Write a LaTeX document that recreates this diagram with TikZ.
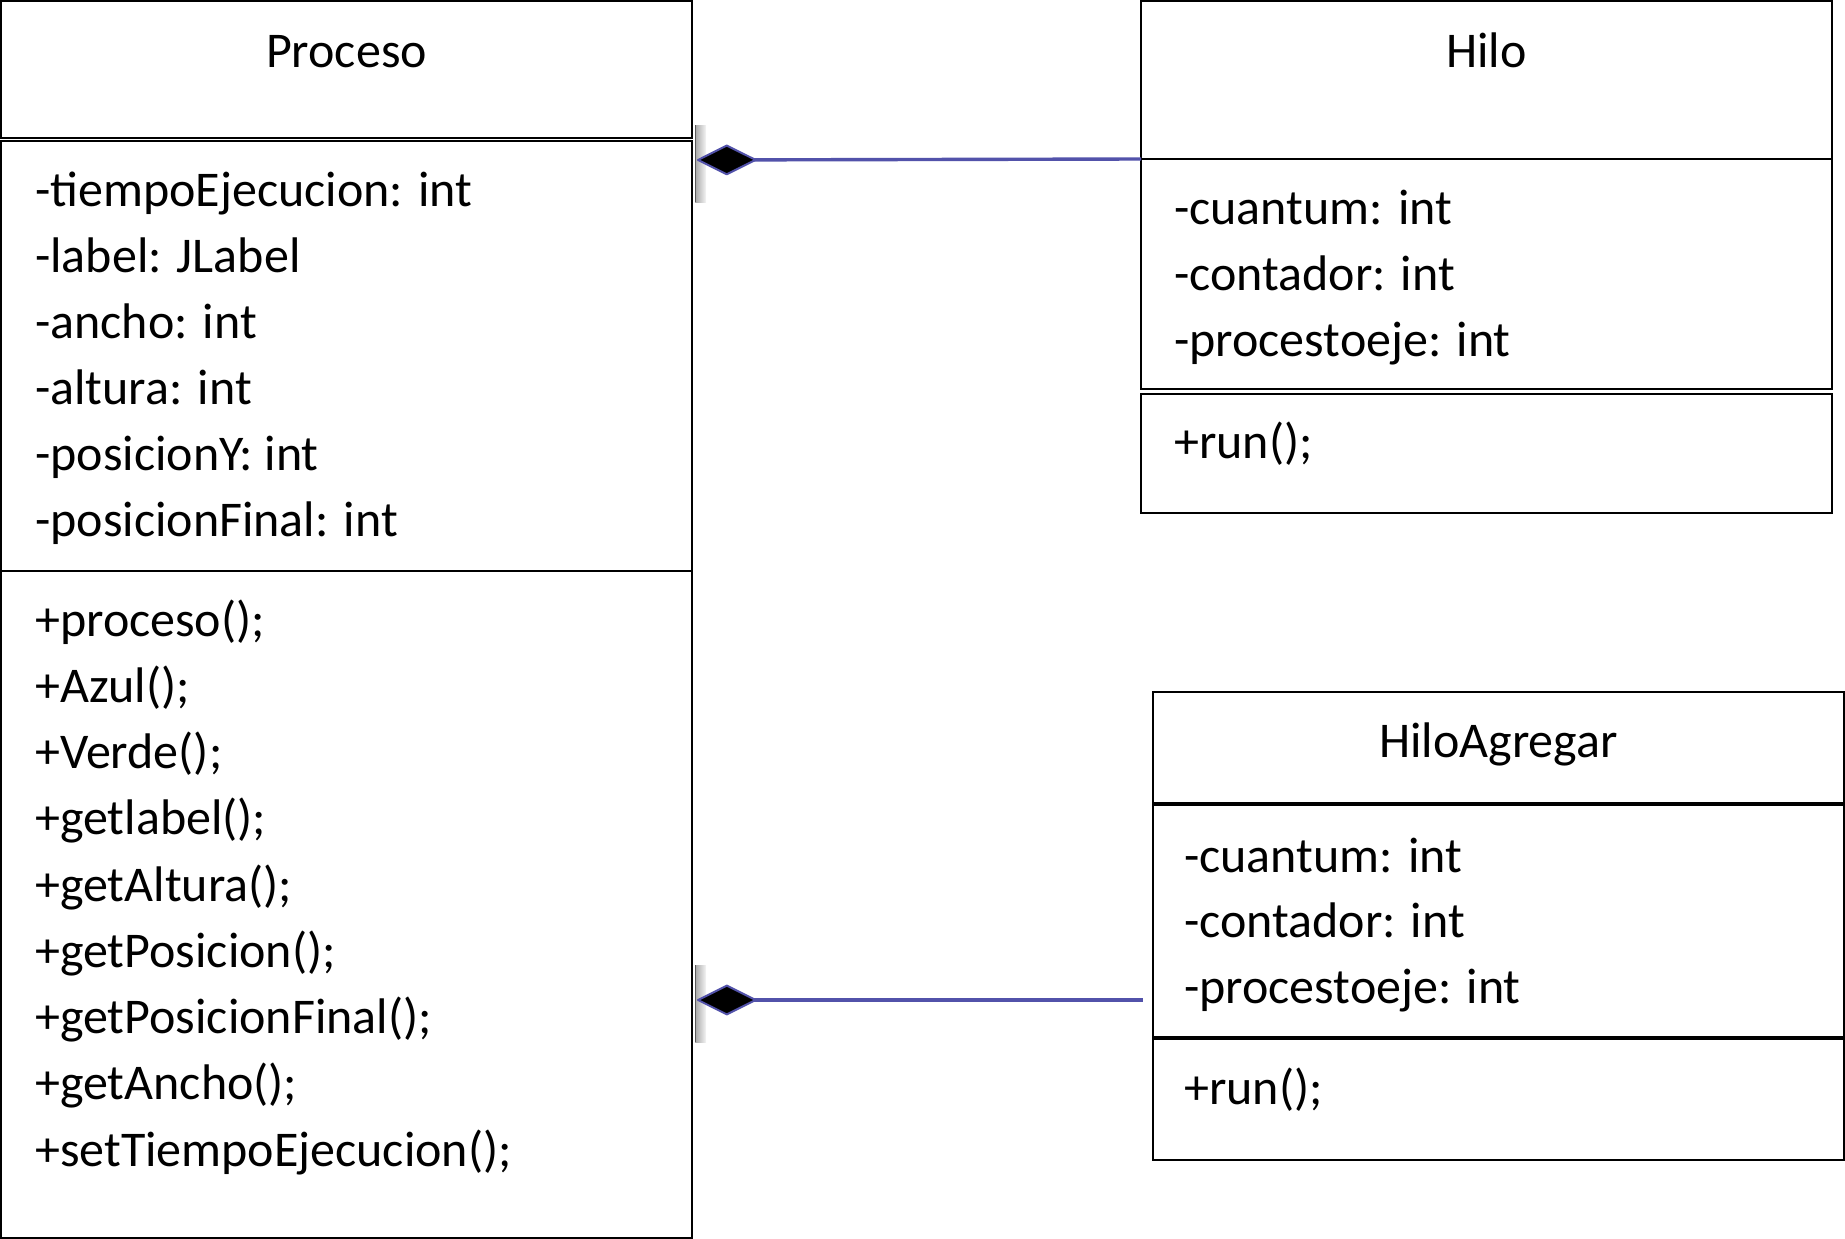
\documentclass[tikz,border=0pt]{standalone}
\usepackage{fontspec}
\setmainfont{Carlito}
\usetikzlibrary{arrows.meta}
\definecolor{conn}{RGB}{82,82,170}
\tikzset{
  comp/.style={draw=black, line width=2.2pt, anchor=north west, inner sep=0pt, outer sep=0pt, minimum width=691pt},
  txt/.style={anchor=base west, inner sep=0pt, font=\fontsize{50}{60}\selectfont},
  ttl/.style={anchor=base, inner sep=0pt, font=\fontsize{50}{60}\selectfont},
  compo/.style={draw=conn, line width=3.4pt, {Diamond[length=62pt,width=31pt,line width=2pt,round,fill=black]}-},
  stub/.style={left color=gray!70, right color=gray!8, draw=none},
  stubedge/.style={draw=gray!70!black, line width=1pt},
  thickdiv/.style={draw=black, line width=4pt}
}
\begin{document}
\begin{tikzpicture}[x=1pt,y=-1pt]
\useasboundingbox (0,0) rectangle (1845,1239);
% ---------- Proceso ----------
\node[comp, minimum height=137pt] (pt) at (1,1) {};
\node[comp, minimum height=430pt] (pa) at (1,141) {};
\node[comp, minimum height=667pt] (pm) at (1,571) {};
\node[ttl] (ptt) at (346.5,68) {Proceso};
\foreach \t [count=\i] in {{-tiempoEjecucion: int},{-label: JLabel},{-ancho: int},{-altura: int},{-posicionY: int},{-posicionFinal: int}}
  \node[txt] (pa\i) at (35,{206+66*(\i-1)}) {\t};
\foreach \t [count=\i] in {{+proceso();},{+Azul();},{+Verde();},{+getlabel();},{+getAltura();},{+getPosicion();},{+getPosicionFinal();},{+getAncho();},{+setTiempoEjecucion();}}
  \node[txt] (pm\i) at (35,{636+66.25*(\i-1)}) {\t};
% ---------- Hilo ----------
\node[comp, minimum height=158pt] (ht) at (1141,1) {};
\node[comp, minimum height=230pt] (ha) at (1141,159) {};
\node[comp, minimum height=119pt] (hm) at (1141,394) {};
\node[ttl] (htt) at (1486.5,68) {Hilo};
\foreach \t [count=\i] in {{-cuantum: int},{-contador: int},{-procestoeje: int}}
  \node[txt] (ha\i) at (1174,{224+66*(\i-1)}) {\t};
\node[txt] (hm1) at (1174,458) {+run();};
% ---------- HiloAgregar ----------
\node[comp, minimum height=112pt] (gt) at (1153,692) {};
\node[comp, minimum height=234pt] (ga) at (1153,804) {};
\node[comp, minimum height=122pt] (gm) at (1153,1038) {};
\draw[thickdiv] (gt.south west) -- (gt.south east);
\draw[thickdiv] (ga.south west) -- (ga.south east);
\node[ttl] (gtt) at (1498.5,757) {HiloAgregar};
\foreach \t [count=\i] in {{-cuantum: int},{-contador: int},{-procestoeje: int}}
  \node[txt] (ga\i) at (1184,{872+65.5*(\i-1)}) {\t};
\node[txt] (gm1) at (1184,1104) {+run();};
% ---------- connectors ----------
\fill[stub] (695,125) rectangle (706,202);
\draw[stubedge] (695.5,125) -- (695.5,202);
\fill[stub] (695,965) rectangle (706,1042);
\draw[stubedge] (695.5,965) -- (695.5,1042);
\coordinate (d1) at (697,160);
\coordinate (d2) at (697,1000);
\coordinate (e2) at (1143,1000);
\draw[compo] (d1) -- (ht.south west);
\draw[compo] (d2) -- (e2);
\end{tikzpicture}
\end{document}
